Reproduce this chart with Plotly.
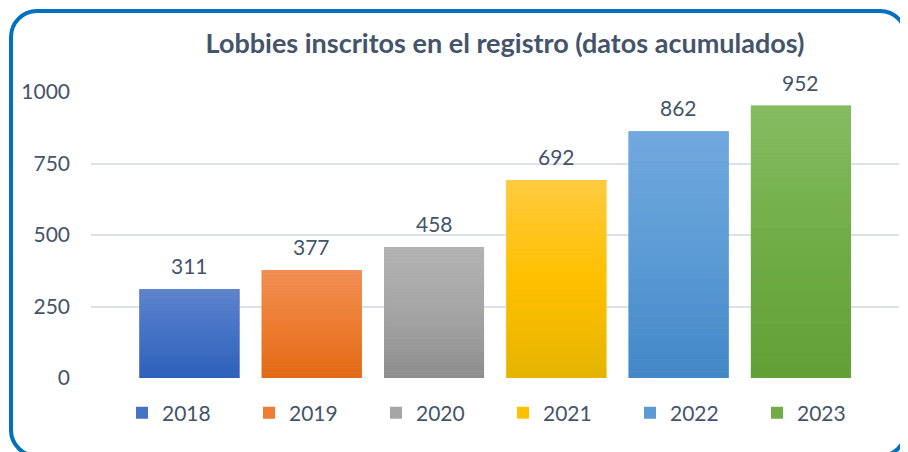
import plotly.graph_objects as go

# ---- data ----
years = ["2018", "2019", "2020", "2021", "2022", "2023"]
lobbies = [311, 377, 458, 692, 862, 952]
title_text = "Lobbies inscritos en el registro (datos acumulados)"
y_ticks = [0, 250, 500, 750, 1000]

# ---- styles ----
base_colors = ["#4472C4", "#ED7D31", "#A5A5A5", "#FFC000", "#5B9BD5", "#70AD47"]
top_colors = [(97, 133, 206), (241, 143, 87), (180, 180, 180), (255, 203, 64), (114, 168, 222), (134, 188, 98)]
mid_colors = [(68, 114, 196), (237, 125, 49), (165, 165, 165), (255, 192, 0), (91, 155, 213), (112, 173, 71)]
bot_colors = [(46, 96, 186), (226, 104, 20), (140, 140, 140), (228, 180, 0), (66, 135, 198), (96, 160, 52)]
TEXT = "#44546A"
FONT = "Lato"
OFF = 8  # page offset of the figure (body margin)
W, H = 908 - OFF, 452 - OFF
ML, MR, MT, MB = 91 - OFF, 9, 92 - OFF, 74
BAR_W = 0.818
N_SLICES = 40


def lerp(a, b, t):
    return tuple(round(a[i] + (b[i] - a[i]) * t) for i in range(3))


def grad_color(i, t):
    # t = 0 bottom, 1 top
    if t < 0.5:
        c = lerp(bot_colors[i], mid_colors[i], t / 0.5)
    else:
        c = lerp(mid_colors[i], top_colors[i], (t - 0.5) / 0.5)
    return "rgb(%d,%d,%d)" % c


fig = go.Figure()

# full bars (legend entries)
for i, (yr, v) in enumerate(zip(years, lobbies)):
    fig.add_trace(go.Bar(
        x=[yr], y=[v], name=yr, width=BAR_W,
        marker=dict(color=base_colors[i], line=dict(width=0)),
        hoverinfo="x+y",
    ))

# gradient slices
for k in range(N_SLICES):
    t = (k + 0.5) / N_SLICES
    fig.add_trace(go.Bar(
        x=years,
        y=[v / N_SLICES * 1.02 for v in lobbies],
        base=[v * k / N_SLICES for v in lobbies],
        width=BAR_W,
        marker=dict(color=[grad_color(i, t) for i in range(len(years))], line=dict(width=0)),
        showlegend=False, hoverinfo="skip",
    ))

# value labels (x by category index)
for i, v in enumerate(lobbies):
    fig.add_annotation(x=i, y=v, xref="x", yref="y", text=str(v), showarrow=False, yanchor="bottom",
                       yshift=9, font=dict(family=FONT, size=21, color=TEXT))

# rounded border in page pixels -> paper coords
pw, ph = W - ML - MR, H - MT - MB


def px(xp):
    return (xp - OFF - ML) / pw


def py(yp):
    return 1 - (yp - OFF - MT) / ph


x0b, y0b, x1b, y1b, r = 11, 11, 906, 456, 26
k = 0.45
path = (
    f"M{px(x0b + r)},{py(y0b)} L{px(x1b - r)},{py(y0b)} "
    f"C{px(x1b - r * k)},{py(y0b)} {px(x1b)},{py(y0b + r * k)} {px(x1b)},{py(y0b + r)} "
    f"L{px(x1b)},{py(y1b - r)} "
    f"C{px(x1b)},{py(y1b - r * k)} {px(x1b - r * k)},{py(y1b)} {px(x1b - r)},{py(y1b)} "
    f"L{px(x0b + r)},{py(y1b)} "
    f"C{px(x0b + r * k)},{py(y1b)} {px(x0b)},{py(y1b - r * k)} {px(x0b)},{py(y1b - r)} "
    f"L{px(x0b)},{py(y0b + r)} "
    f"C{px(x0b)},{py(y0b + r * k)} {px(x0b + r * k)},{py(y0b)} {px(x0b + r)},{py(y0b)} Z"
)
fig.add_shape(type="path", xref="paper", yref="paper", path=path,
              line=dict(color="#0070C0", width=4), fillcolor="rgba(0,0,0,0)", layer="above")

fig.update_layout(
    width=W, height=H,
    margin=dict(l=ML, r=MR, t=MT, b=MB, autoexpand=False),
    paper_bgcolor="white", plot_bgcolor="white",
    barmode="overlay",
    font=dict(family=FONT, color=TEXT),
    title=dict(text="<b>" + title_text + "</b>", x=px(505), xref="paper", xanchor="center",
               y=1 - (44 - OFF) / H, yanchor="middle", font=dict(family=FONT, size=27, color=TEXT)),
    xaxis=dict(type="category", range=[-0.805, 5.802], showticklabels=False, showgrid=False,
               zeroline=False, showline=False, fixedrange=True, automargin=False),
    yaxis=dict(range=[0, 1000], tickvals=y_ticks, showgrid=True, gridcolor="#DDE2E8", gridwidth=2,
               zeroline=False, showline=False, ticks="", ticklabelstandoff=20, automargin=False,
               tickfont=dict(family=FONT, size=21, color=TEXT)),
    legend=dict(orientation="h", x=px(122), xanchor="left", y=py(413), yanchor="middle",
                font=dict(family=FONT, size=21, color=TEXT), entrywidth=82, entrywidthmode="pixels",
                traceorder="normal", bgcolor="rgba(0,0,0,0)"),
    showlegend=True,
)

fig.write_html("out.html")
